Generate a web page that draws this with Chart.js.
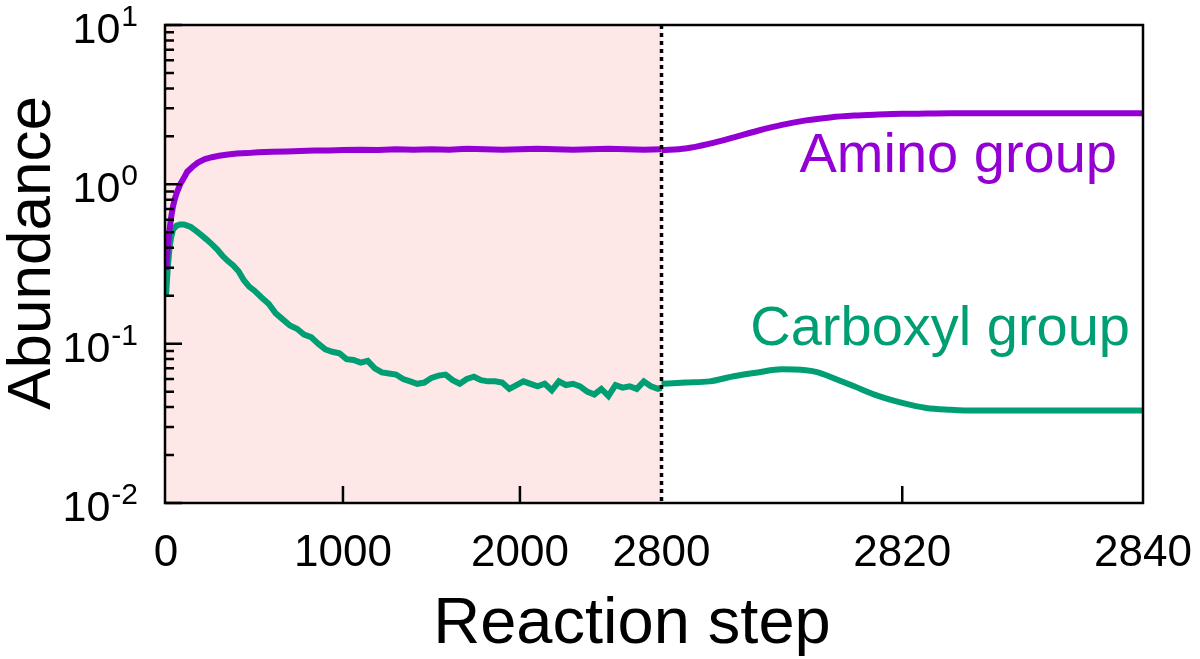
<!DOCTYPE html>
<html>
<head>
<meta charset="utf-8">
<script src="https://cdn.jsdelivr.net/npm/chart.js@4.4.1/dist/chart.umd.min.js"></script>
<style>
  html, body { margin:0; padding:0; background:#fff; }
  canvas { display:block; }
</style>
</head>
<body>
<canvas id="chart" width="1200" height="659"></canvas>
<script>
/* ── Abundance vs reaction step, broken x axis at 2800 ── */

// left part: 0..2800 (shaded), right part: 2800..2840
const aminoStepsL = [0,10,20,30,40,50,60,80,100,120,150,180,220,260,300,350,400,460,520,600,680,760,840,920,1000,1100,1200,1300,1400,1500,1600,1700,1800,1900,2000,2100,2200,2300,2400,2500,2600,2700,2800];
const aminoL      = [0.29,0.40,0.52,0.63,0.73,0.81,0.88,1.00,1.09,1.20,1.29,1.37,1.44,1.48,1.51,1.54,1.56,1.57,1.59,1.60,1.61,1.62,1.63,1.63,1.64,1.65,1.64,1.66,1.65,1.66,1.65,1.67,1.66,1.65,1.66,1.67,1.66,1.65,1.66,1.67,1.66,1.65,1.66];

const aminoStepsR = [2800,2802,2804,2806,2808,2810,2812,2814,2816,2818,2820,2822,2824,2828,2832,2836,2840];
const aminoR      = [1.64,1.68,1.80,1.97,2.17,2.36,2.52,2.63,2.70,2.74,2.77,2.78,2.79,2.79,2.79,2.79,2.79];

const carbStepsL = [0,10,20,30,40,60,80,100,120,140,170,200,230,260,290,320,350,380,410,440,470,500,540,580,620,660,700,740,780,820,860,900,940,980,1020,1060,1100,1140,1180,1220,1260,1300,1340,1380,1420,1460,1500,1540,1580,1620,1660,1700,1740,1780,1820,1860,1900,1940,1980,2020,2060,2100,2140,2180,2220,2260,2300,2340,2380,2420,2460,2500,2540,2580,2620,2660,2700,2740,2780,2800];
const carbL      = [0.20,0.30,0.40,0.47,0.52,0.55,0.56,0.56,0.55,0.54,0.51,0.48,0.45,0.42,0.39,0.355,0.33,0.31,0.285,0.25,0.228,0.215,0.195,0.178,0.155,0.142,0.130,0.124,0.114,0.110,0.100,0.092,0.089,0.087,0.080,0.079,0.076,0.078,0.070,0.066,0.065,0.064,0.060,0.058,0.056,0.057,0.061,0.063,0.064,0.059,0.056,0.060,0.062,0.059,0.058,0.058,0.057,0.052,0.055,0.058,0.056,0.054,0.056,0.051,0.058,0.055,0.056,0.054,0.050,0.048,0.052,0.047,0.055,0.053,0.054,0.052,0.058,0.054,0.052,0.053];

const carbStepsR = [2800,2802,2804,2806,2808,2810,2812,2813,2814,2816,2818,2820,2822,2824,2826,2830,2835,2840];
const carbR      = [0.056,0.057,0.058,0.0625,0.066,0.069,0.068,0.066,0.062,0.054,0.047,0.0425,0.0395,0.0385,0.038,0.038,0.038,0.038];

const tickSteps  = [0,1000,2000,2800,2820,2840];
const tickLabels = ['0','1000','2000','2800','2820','2840'];
const yDecades   = [-2,-1,0,1];

const BREAK = 2800;
const LEFT_SPAN = 495.5;                 // axis units for 0..2800
const RIGHT_PER_STEP = 481.5 / 40;       // axis units per step after the break

const AMINO = '#9400d3';
const CARB  = '#009e73';
const FONT  = '"Liberation Sans", Arial, Helvetica, sans-serif';

// map a reaction step onto the single (broken) x axis
function toAxis(step) {
  if (step <= BREAK) return step * LEFT_SPAN / BREAK;
  return LEFT_SPAN + (step - BREAK) * RIGHT_PER_STEP;
}

function pts(steps, vals) {
  return steps.map((s, i) => ({ x: toAxis(s), y: vals[i] }));
}

const decor = {
  id: 'decor',
  beforeDatasetsDraw(chart) {
    const { ctx, chartArea: a, scales: { x } } = chart;
    ctx.save();
    ctx.fillStyle = '#fde7e7';
    ctx.fillRect(a.left, a.top, x.getPixelForValue(toAxis(BREAK)) - a.left, a.bottom - a.top);
    ctx.restore();
  },
  afterDatasetsDraw(chart) {
    const { ctx, chartArea: a, scales: { x, y } } = chart;
    ctx.save();

    // dotted break line
    const xb = x.getPixelForValue(toAxis(BREAK));
    ctx.strokeStyle = '#000';
    ctx.lineWidth = 3.5;
    ctx.setLineDash([4, 4]);
    ctx.beginPath(); ctx.moveTo(xb, a.top); ctx.lineTo(xb, a.bottom); ctx.stroke();
    ctx.setLineDash([]);

    // frame
    ctx.lineWidth = 2.5;
    ctx.strokeRect(a.left, a.top, a.right - a.left, a.bottom - a.top);

    // inward ticks
    ctx.lineWidth = 2.5;
    ctx.beginPath();
    [1000, 2000, 2820].forEach(s => {
      const px = x.getPixelForValue(toAxis(s));
      ctx.moveTo(px, a.bottom); ctx.lineTo(px, a.bottom - 17);
    });
    yDecades.forEach(d => {
      const py = y.getPixelForValue(Math.pow(10, d));
      ctx.moveTo(a.left, py); ctx.lineTo(a.left + 17, py);
      if (d < 1) {
        for (let m = 2; m <= 9; m++) {
          const pm = y.getPixelForValue(m * Math.pow(10, d));
          ctx.moveTo(a.left, pm); ctx.lineTo(a.left + 9, pm);
        }
      }
    });
    ctx.stroke();

    // y tick labels 10^n
    ctx.fillStyle = '#000';
    ctx.textAlign = 'right';
    ctx.textBaseline = 'alphabetic';
    yDecades.forEach(d => {
      const py = y.getPixelForValue(Math.pow(10, d));
      const sup = d < 0 ? '-' + (-d) : String(d);
      ctx.font = '30px ' + FONT;
      const w = ctx.measureText(sup).width;
      ctx.fillText(sup, 138, py + 1);
      ctx.font = '43px ' + FONT;
      ctx.fillText('10', 138 - w - 1, py + 18);
    });

    // axis titles
    ctx.font = '65px ' + FONT;
    ctx.textAlign = 'center';
    ctx.fillText('Reaction step', 632, 643);
    ctx.font = '62px ' + FONT;
    ctx.save();
    ctx.translate(50, 253);
    ctx.rotate(-Math.PI / 2);
    ctx.fillText('Abundance', 0, 0);
    ctx.restore();

    // series labels
    ctx.font = '56px ' + FONT;
    ctx.textAlign = 'right';
    ctx.fillStyle = AMINO;
    ctx.fillText('Amino group', 1117, 172);
    ctx.fillStyle = CARB;
    ctx.fillText('Carboxyl group', 1130, 345);

    ctx.restore();
  }
};

function line(data, color, smooth) {
  return {
    data, borderColor: color, borderWidth: 6, pointRadius: 0,
    tension: smooth ? 0.4 : 0, cubicInterpolationMode: smooth ? 'monotone' : 'default',
    fill: false
  };
}

new Chart(document.getElementById('chart'), {
  type: 'line',
  data: {
    datasets: [
      line(pts(aminoStepsL, aminoL), AMINO, false),
      line(pts(aminoStepsR, aminoR), AMINO, true),
      line(pts(carbStepsL, carbL), CARB, false),
      line(pts(carbStepsR, carbR), CARB, true)
    ]
  },
  options: {
    responsive: false,
    animation: false,
    devicePixelRatio: 1,
    layout: { padding: { left: 0, right: 57, top: 25, bottom: 0 } },
    plugins: { legend: { display: false }, tooltip: { enabled: false } },
    scales: {
      x: {
        type: 'linear', min: -1, max: 977,
        grid: { display: false, drawTicks: false },
        border: { display: false },
        afterBuildTicks(scale) { scale.ticks = tickSteps.map(s => ({ value: toAxis(s) })); },
        afterFit(scale) { scale.height = 156; scale.paddingLeft = 0; scale.paddingRight = 0; },
        ticks: {
          autoSkip: false, maxRotation: 0, padding: 24, color: '#000',
          font: { family: FONT, size: 44 },
          callback: (v, i) => tickLabels[i]
        }
      },
      y: {
        type: 'logarithmic', min: 0.01, max: 10,
        grid: { display: false, drawTicks: false },
        border: { display: false },
        ticks: { display: false },
        afterFit(scale) { scale.width = 165; }
      }
    }
  },
  plugins: [decor]
});
</script>
</body>
</html>
